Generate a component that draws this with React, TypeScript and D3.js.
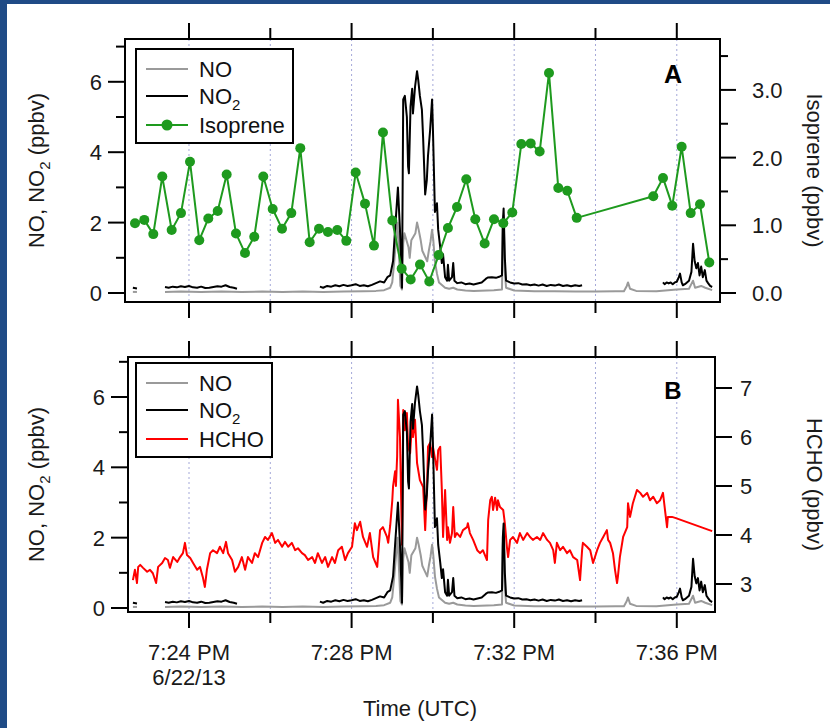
import React from "react";
import * as d3 from "d3";

// ---- DATA (time = minutes after 7:22:00 PM UTC, 6/22/13) ----
const isopreneTime = [0.672, 0.9, 1.122, 1.343, 1.574, 1.803, 2.025, 2.253, 2.475, 2.706, 2.927, 3.156, 3.378, 3.606, 3.828, 4.059, 4.288, 4.517, 4.738, 4.969, 5.198, 5.419, 5.648, 5.87, 6.101, 6.33, 6.551, 6.772, 7.001, 7.233, 7.454, 7.683, 7.911, 8.143, 8.371, 8.593, 8.822, 9.043, 9.274, 9.503, 9.732, 9.953, 10.175, 10.406, 10.627, 10.856, 11.085, 11.306, 11.538, 13.422, 13.661, 13.889, 14.12, 14.342, 14.571, 14.8];
const isopreneValue = [1.03, 1.08, 0.87, 1.72, 0.93, 1.18, 1.94, 0.78, 1.1, 1.21, 1.75, 0.88, 0.59, 0.83, 1.72, 1.24, 0.95, 1.18, 2.14, 0.75, 0.95, 0.9, 0.93, 0.77, 1.78, 1.32, 0.7, 2.37, 1.07, 0.36, 0.2, 0.42, 0.17, 0.56, 0.96, 1.27, 1.68, 1.09, 0.73, 1.09, 1.03, 1.19, 2.2, 2.21, 2.09, 3.25, 1.55, 1.51, 1.11, 1.43, 1.7, 1.29, 2.16, 1.18, 1.31, 0.45];

const no2Seg0: [number, number][] = [[0.62, 0.15], [0.72, 0.13]];
const no2Seg1: [number, number][] = [[1.41, 0.17], [1.5, 0.15], [1.6, 0.18], [1.7, 0.16], [1.8, 0.19], [1.9, 0.17], [2.0, 0.2], [2.1, 0.16], [2.2, 0.15], [2.3, 0.18], [2.4, 0.14], [2.5, 0.15], [2.6, 0.17], [2.7, 0.19], [2.8, 0.18], [2.9, 0.22], [3.0, 0.17], [3.1, 0.15], [3.18, 0.12]];
const no2Seg2: [number, number][] = [[5.22, 0.18], [5.3, 0.15], [5.4, 0.2], [5.5, 0.18], [5.6, 0.22], [5.7, 0.19], [5.8, 0.23], [5.9, 0.2], [6.0, 0.22], [6.1, 0.25], [6.2, 0.2], [6.3, 0.22], [6.4, 0.19], [6.5, 0.23], [6.6, 0.28], [6.7, 0.33], [6.8, 0.3], [6.88, 0.45], [6.95, 0.5], [7.02, 0.9], [7.07, 1.8], [7.14, 3.0], [7.19, 1.8], [7.24, 0.15], [7.27, 5.5], [7.31, 5.6], [7.36, 5.0], [7.39, 3.6], [7.41, 3.4], [7.45, 5.3], [7.49, 5.8], [7.51, 5.1], [7.56, 5.85], [7.61, 6.3], [7.64, 6.05], [7.68, 5.6], [7.73, 5.2], [7.76, 4.4], [7.81, 2.8], [7.85, 3.2], [7.88, 3.9], [7.93, 4.6], [7.98, 5.5], [8.0, 4.7], [8.05, 2.3], [8.1, 2.55], [8.13, 1.8], [8.18, 1.3], [8.22, 0.85], [8.25, 1.1], [8.3, 0.45], [8.35, 0.35], [8.37, 0.8], [8.4, 0.35], [8.47, 0.45], [8.5, 0.85], [8.53, 0.35], [8.6, 0.28], [8.7, 0.3], [8.8, 0.25], [8.9, 0.27], [9.0, 0.24], [9.1, 0.27], [9.2, 0.3], [9.3, 0.4], [9.35, 0.44], [9.45, 0.45], [9.55, 0.43], [9.65, 0.47], [9.7, 0.5], [9.72, 2.0], [9.74, 2.4], [9.77, 1.0], [9.8, 0.35], [9.9, 0.3], [10.0, 0.27], [10.1, 0.28], [10.2, 0.24], [10.3, 0.25], [10.4, 0.22], [10.5, 0.24], [10.6, 0.21], [10.7, 0.24], [10.8, 0.2], [10.9, 0.23], [11.0, 0.21], [11.1, 0.24], [11.2, 0.2], [11.3, 0.22], [11.4, 0.19], [11.5, 0.22], [11.6, 0.2], [11.67, 0.22]];
const no2Seg3: [number, number][] = [[13.66, 0.3], [13.7, 0.25], [13.75, 0.3], [13.8, 0.27], [13.85, 0.3], [13.9, 0.25], [13.95, 0.3], [14.0, 0.32], [14.05, 0.45], [14.08, 0.55], [14.12, 0.3], [14.15, 0.22], [14.2, 0.25], [14.25, 0.3], [14.3, 0.35], [14.36, 0.6], [14.4, 1.4], [14.44, 0.9], [14.48, 0.7], [14.52, 0.85], [14.56, 0.5], [14.6, 0.75], [14.64, 0.45], [14.69, 0.65], [14.73, 0.35], [14.77, 0.28], [14.82, 0.2], [14.87, 0.17]];

const noSeg0: [number, number][] = [[0.62, 0.03], [0.72, 0.03]];
const noSeg1: [number, number][] = [[1.41, 0.03], [1.8, 0.04], [2.3, 0.03], [2.8, 0.04], [3.3, 0.03], [3.8, 0.04], [4.3, 0.03], [4.8, 0.04], [5.3, 0.03], [5.8, 0.04], [6.3, 0.05], [6.6, 0.06], [6.8, 0.08], [6.95, 0.15], [7.0, 0.3], [7.05, 0.9], [7.1, 1.6], [7.13, 2.0], [7.17, 1.0], [7.2, 0.2], [7.24, 0.1], [7.27, 1.4], [7.3, 1.7], [7.35, 1.5], [7.4, 1.3], [7.43, 1.0], [7.47, 1.5], [7.52, 1.6], [7.57, 1.7], [7.61, 2.0], [7.65, 1.8], [7.7, 1.5], [7.74, 1.2], [7.78, 1.1], [7.82, 1.0], [7.86, 0.9], [7.9, 1.2], [7.94, 1.45], [7.98, 1.8], [8.01, 1.5], [8.05, 0.9], [8.1, 0.55], [8.15, 0.3], [8.2, 0.25], [8.3, 0.15], [8.4, 0.12], [8.5, 0.15], [8.6, 0.1], [8.8, 0.07], [9.0, 0.06], [9.5, 0.08], [9.7, 0.1], [9.72, 1.8], [9.74, 2.2], [9.77, 0.6], [9.8, 0.15], [10.0, 0.07], [10.5, 0.05], [11.0, 0.05], [11.5, 0.04], [12.0, 0.04], [12.5, 0.05], [12.7, 0.05], [12.77, 0.2], [12.8, 0.3], [12.85, 0.12], [13.0, 0.06], [13.5, 0.05], [14.0, 0.1], [14.3, 0.12], [14.4, 0.35], [14.45, 0.15], [14.6, 0.2], [14.7, 0.15], [14.87, 0.08]];

const hcho: [number, number][] = [[0.62, 3.08], [0.67, 3.29], [0.72, 3.02], [0.75, 3.35], [0.8, 3.39], [0.87, 3.33], [0.97, 3.25], [1.04, 3.29], [1.11, 3.22], [1.19, 3.02], [1.24, 3.35], [1.34, 3.43], [1.41, 3.53], [1.48, 3.49], [1.53, 3.33], [1.61, 3.55], [1.71, 3.45], [1.78, 3.55], [1.85, 3.63], [1.9, 3.84], [1.95, 3.59], [2.03, 3.53], [2.1, 3.43], [2.2, 3.29], [2.27, 3.35], [2.34, 3.14], [2.39, 2.94], [2.44, 3.29], [2.52, 3.63], [2.59, 3.69], [2.69, 3.63], [2.76, 3.76], [2.84, 3.63], [2.91, 3.86], [2.96, 3.63], [3.06, 3.49], [3.13, 3.25], [3.21, 3.35], [3.3, 3.55], [3.38, 3.29], [3.45, 3.55], [3.55, 3.43], [3.62, 3.63], [3.7, 3.55], [3.8, 3.84], [3.87, 3.96], [3.94, 3.9], [4.04, 4.04], [4.12, 3.84], [4.19, 3.9], [4.29, 3.76], [4.36, 3.86], [4.44, 3.76], [4.53, 3.84], [4.61, 3.69], [4.68, 3.73], [4.78, 3.63], [4.85, 3.59], [4.93, 3.49], [5.03, 3.55], [5.1, 3.43], [5.17, 3.63], [5.27, 3.43], [5.35, 3.55], [5.42, 3.35], [5.52, 3.55], [5.59, 3.43], [5.67, 3.69], [5.76, 3.76], [5.84, 3.49], [5.91, 3.63], [6.01, 3.76], [6.08, 4.24], [6.13, 4.1], [6.21, 4.27], [6.28, 3.96], [6.38, 3.76], [6.45, 4.04], [6.53, 3.55], [6.63, 3.35], [6.7, 4.1], [6.77, 4.16], [6.87, 3.96], [6.9, 3.84], [6.95, 4.2], [7.0, 4.7], [7.02, 5.0], [7.07, 5.3], [7.09, 5.0], [7.12, 5.6], [7.14, 6.76], [7.19, 6.0], [7.24, 3.8], [7.27, 6.55], [7.31, 6.14], [7.36, 6.49], [7.39, 5.8], [7.44, 5.67], [7.49, 6.35], [7.51, 6.0], [7.56, 6.35], [7.61, 5.47], [7.68, 5.12], [7.76, 4.98], [7.81, 4.1], [7.86, 5.12], [7.88, 5.8], [7.93, 5.88], [7.98, 5.59], [8.0, 5.8], [8.1, 5.33], [8.13, 5.73], [8.18, 5.8], [8.22, 4.92], [8.25, 3.96], [8.3, 4.92], [8.35, 3.9], [8.37, 4.16], [8.42, 3.84], [8.47, 4.04], [8.5, 4.57], [8.54, 3.96], [8.59, 4.04], [8.67, 3.96], [8.74, 4.1], [8.84, 4.16], [8.86, 4.24], [8.91, 4.04], [8.99, 3.9], [9.09, 3.69], [9.16, 3.63], [9.23, 3.69], [9.33, 3.49], [9.36, 4.31], [9.41, 4.71], [9.45, 4.78], [9.48, 4.51], [9.53, 4.76], [9.58, 4.51], [9.6, 4.71], [9.65, 4.57], [9.73, 4.51], [9.77, 4.24], [9.82, 3.76], [9.85, 3.55], [9.9, 3.9], [9.97, 3.96], [10.07, 3.84], [10.14, 4.04], [10.22, 3.9], [10.32, 4.04], [10.39, 3.96], [10.46, 3.9], [10.56, 3.96], [10.64, 3.9], [10.71, 4.04], [10.81, 3.9], [10.88, 3.84], [10.96, 3.69], [11.0, 3.43], [11.05, 3.84], [11.13, 3.69], [11.2, 3.76], [11.3, 3.63], [11.37, 3.69], [11.45, 3.55], [11.55, 3.49], [11.62, 3.08], [11.67, 3.69], [11.69, 3.84], [11.79, 3.76], [11.87, 3.69], [11.94, 3.43], [12.04, 3.69], [12.11, 3.84], [12.19, 3.96], [12.28, 4.1], [12.31, 3.9], [12.36, 3.84], [12.43, 3.63], [12.48, 3.29], [12.53, 3.02], [12.55, 3.14], [12.6, 3.55], [12.68, 3.96], [12.78, 4.16], [12.8, 4.65], [12.85, 4.37], [12.92, 4.65], [13.02, 4.92], [13.1, 4.86], [13.17, 4.78], [13.27, 4.86], [13.34, 4.71], [13.42, 4.78], [13.51, 4.65], [13.59, 4.71], [13.66, 4.86], [13.71, 4.51], [13.76, 4.16], [13.78, 4.37], [13.88, 4.37], [13.96, 4.35], [14.87, 4.08]];

const leftTicks = [0, 1, 2, 3, 4, 5, 6, 7];
const isopreneTicks = [0, 0.5, 1, 1.5, 2, 2.5, 3, 3.5];
const hchoTicks = [3, 4, 5, 6, 7];

// ---- helpers ----
const BASE = new Date(2013, 5, 22, 19, 22, 0).getTime();
const toDate = (m: number) => new Date(BASE + m * 60000);
const FONT = "'Liberation Sans', Arial, Helvetica, sans-serif";
const GREEN = "#1e9a1e";
const GREY = "#9a9a9a";
const RED = "#ff0000";
const fmtTime = d3.timeFormat("%-I:%M %p");
const fmtDate = d3.timeFormat("%-m/%-d/%y");

type Cfg = {
  left: number; right: number; top: number; bottom: number;
  x0: number; x1: number; yL: [number, number]; yR: [number, number];
};

function makeScales(c: Cfg) {
  const x = d3.scaleTime().domain([toDate(c.x0), toDate(c.x1)]).range([c.left, c.right]);
  const y = d3.scaleLinear().domain(c.yL).range([c.bottom, c.top]);
  const yr = d3.scaleLinear().domain(c.yR).range([c.bottom, c.top]);
  return { x, y, yr };
}

function Axes({ c, x, y, id }: { c: Cfg; x: any; y: any; id: string }) {
  const xt: Date[] = x.ticks(d3.timeMinute.every(2));
  return (
    <g>
      {xt.map((d, i) => {
        const px = x(d);
        const major = d.getMinutes() % 4 === 0;
        const L = major ? 16 : 11;
        return (
          <g key={id + "x" + i}>
            <line x1={px} x2={px} y1={c.top} y2={c.bottom} stroke="#a4a8d8" strokeWidth={1} strokeDasharray="2,3" />
            <line x1={px} x2={px} y1={c.top} y2={c.top - L} stroke="#000" strokeWidth={2} />
            <line x1={px} x2={px} y1={c.bottom} y2={c.bottom + L} stroke="#000" strokeWidth={2} />
          </g>
        );
      })}
      {leftTicks.map((v) => {
        const py = y(v);
        const major = v % 2 === 0;
        return (
          <g key={id + "l" + v}>
            <line x1={c.left} x2={c.left - (major ? 17 : 9)} y1={py} y2={py} stroke="#000" strokeWidth={2} />
            {major && (
              <text x={c.left - 23} y={py} dy="0.36em" textAnchor="end" fontSize={22} fontFamily={FONT} fill="#1a1a1a">{v}</text>
            )}
          </g>
        );
      })}
    </g>
  );
}

export default function App() {
  const cA: Cfg = { left: 125, right: 720, top: 39, bottom: 302, x0: 0.426, x1: 15.063, yL: [-0.256, 7.216], yR: [-0.133, 3.752] };
  const cB: Cfg = { left: 128, right: 715, top: 357, bottom: 612, x0: 0.499, x1: 14.94, yL: [-0.114, 7.137], yR: [2.429, 7.633] };
  const A = makeScales(cA);
  const B = makeScales(cB);

  const lineOf = (x: any, y: any) =>
    d3.line<[number, number]>().x((d) => x(toDate(d[0]))).y((d) => y(d[1]));

  const lA = lineOf(A.x, A.y);
  const lB = lineOf(B.x, B.y);
  const lBR = lineOf(B.x, B.yr);
  const isoPts: [number, number][] = isopreneTime.map((t, i) => [t, isopreneValue[i]]);
  const lAR = lineOf(A.x, A.yr);

  const noSegs = [noSeg0, noSeg1];
  const no2Segs = [no2Seg0, no2Seg1, no2Seg2, no2Seg3];
  const xtB: Date[] = B.x.ticks(d3.timeMinute.every(4));

  return (
    <svg width={830} height={728} style={{ position: "absolute", left: 0, top: 0, background: "#fff" }} fontFamily={FONT}>
      <rect x={0} y={0} width={830} height={728} fill="#fff" />
      <rect x={0} y={0} width={830} height={4} fill="#1f4b86" />
      <rect x={0} y={0} width={7} height={728} fill="#1f4b86" />
      <defs>
        <clipPath id="clipA"><rect x={cA.left} y={cA.top} width={cA.right - cA.left} height={cA.bottom - cA.top} /></clipPath>
        <clipPath id="clipB"><rect x={cB.left} y={cB.top} width={cB.right - cB.left} height={cB.bottom - cB.top} /></clipPath>
      </defs>

      {/* Panel A */}
      <Axes c={cA} x={A.x} y={A.y} id="A" />
      {isopreneTicks.map((v) => {
        const py = A.yr(v);
        const major = Number.isInteger(v);
        return (
          <g key={"ir" + v}>
            <line x1={cA.right} x2={cA.right + (major ? 16 : 8)} y1={py} y2={py} stroke="#000" strokeWidth={2} />
            {major && <text x={cA.right + 32} y={py} dy="0.36em" fontSize={22} fill="#1a1a1a">{d3.format(".1f")(v)}</text>}
          </g>
        );
      })}
      <g clipPath="url(#clipA)" fill="none" strokeLinejoin="round">
        {noSegs.map((s, i) => <path key={"anO" + i} d={lA(s) || ""} stroke={GREY} strokeWidth={2} />)}
        {no2Segs.map((s, i) => <path key={"an2" + i} d={lA(s) || ""} stroke="#000" strokeWidth={2} />)}
        <path d={lAR(isoPts) || ""} stroke={GREEN} strokeWidth={2} />
        {isoPts.map((p, i) => <circle key={"ip" + i} cx={A.x(toDate(p[0]))} cy={A.yr(p[1])} r={5} fill={GREEN} />)}
      </g>
      <rect x={cA.left} y={cA.top} width={cA.right - cA.left} height={cA.bottom - cA.top} fill="none" stroke="#000" strokeWidth={2} />
      {/* Legend A */}
      <rect x={136} y={49} width={157} height={94} fill="#fff" stroke="#000" strokeWidth={2} />
      <line x1={146} x2={188} y1={69} y2={69} stroke={GREY} strokeWidth={2} />
      <text x={199} y={69} dy="0.36em" fontSize={22} fill="#111">NO</text>
      <line x1={146} x2={188} y1={96} y2={96} stroke="#000" strokeWidth={2} />
      <text x={199} y={96} dy="0.36em" fontSize={22} fill="#111">NO<tspan fontSize={15} dy={6}>2</tspan></text>
      <line x1={146} x2={188} y1={125} y2={125} stroke={GREEN} strokeWidth={2} />
      <circle cx={167} cy={125} r={5.5} fill={GREEN} />
      <text x={199} y={125} dy="0.36em" fontSize={22} fill="#111">Isoprene</text>
      <text x={673} y={83} textAnchor="middle" fontSize={25} fontWeight="bold" fill="#000">A</text>

      {/* Panel B */}
      <Axes c={cB} x={B.x} y={B.y} id="B" />
      {hchoTicks.map((v) => {
        const py = B.yr(v);
        return (
          <g key={"hr" + v}>
            <line x1={cB.right} x2={cB.right + 17} y1={py} y2={py} stroke="#000" strokeWidth={2} />
            <text x={cB.right + 25} y={py} dy="0.36em" fontSize={22} fill="#1a1a1a">{v}</text>
          </g>
        );
      })}
      <g clipPath="url(#clipB)" fill="none" strokeLinejoin="round">
        <path d={lBR(hcho) || ""} stroke={RED} strokeWidth={2} />
        {noSegs.map((s, i) => <path key={"bnO" + i} d={lB(s) || ""} stroke={GREY} strokeWidth={2} />)}
        {no2Segs.map((s, i) => <path key={"bn2" + i} d={lB(s) || ""} stroke="#000" strokeWidth={2} />)}
      </g>
      <rect x={cB.left} y={cB.top} width={cB.right - cB.left} height={cB.bottom - cB.top} fill="none" stroke="#000" strokeWidth={2} />
      {/* Legend B */}
      <rect x={136} y={363} width={136} height={94} fill="#fff" stroke="#000" strokeWidth={2} />
      <line x1={146} x2={188} y1={383} y2={383} stroke={GREY} strokeWidth={2} />
      <text x={199} y={383} dy="0.36em" fontSize={22} fill="#111">NO</text>
      <line x1={146} x2={188} y1={410} y2={410} stroke="#000" strokeWidth={2} />
      <text x={199} y={410} dy="0.36em" fontSize={22} fill="#111">NO<tspan fontSize={15} dy={6}>2</tspan></text>
      <line x1={146} x2={188} y1={439} y2={439} stroke={RED} strokeWidth={2} />
      <text x={199} y={439} dy="0.36em" fontSize={22} fill="#111">HCHO</text>
      <text x={673} y={399} textAnchor="middle" fontSize={24} fontWeight="bold" fill="#000">B</text>

      {/* x tick labels */}
      {xtB.map((d, i) => (
        <g key={"xl" + i}>
          <text x={B.x(d)} y={660} textAnchor="middle" fontSize={22} fill="#1a1a1a">{fmtTime(d)}</text>
          {i === 0 && <text x={B.x(d)} y={685} textAnchor="middle" fontSize={22} fill="#1a1a1a">{fmtDate(d)}</text>}
        </g>
      ))}
      <text x={420} y={716} textAnchor="middle" fontSize={22} fill="#1a1a1a">Time (UTC)</text>

      {/* axis titles */}
      <text transform={`translate(44,${(cA.top + cA.bottom) / 2}) rotate(-90)`} textAnchor="middle" fontSize={22} fill="#1a1a1a">NO, NO<tspan fontSize={15} dy={6}>2</tspan><tspan dy={-6}> (ppbv)</tspan></text>
      <text transform={`translate(44,${(cB.top + cB.bottom) / 2}) rotate(-90)`} textAnchor="middle" fontSize={22} fill="#1a1a1a">NO, NO<tspan fontSize={15} dy={6}>2</tspan><tspan dy={-6}> (ppbv)</tspan></text>
      <text transform={`translate(807,${(cA.top + cA.bottom) / 2}) rotate(90)`} textAnchor="middle" fontSize={22} fill="#1a1a1a">Isoprene (ppbv)</text>
      <text transform={`translate(807,${(cB.top + cB.bottom) / 2}) rotate(90)`} textAnchor="middle" fontSize={22} fill="#1a1a1a">HCHO (ppbv)</text>
    </svg>
  );
}
